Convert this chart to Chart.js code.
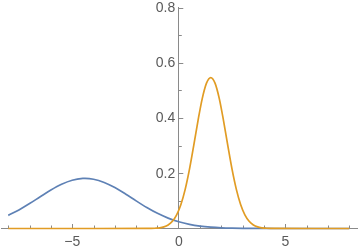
<!DOCTYPE html>
<html>
<head>
<meta charset="utf-8">
<script src="https://cdn.jsdelivr.net/npm/chart.js@4/dist/chart.umd.min.js"></script>
<style>
  html, body { margin: 0; padding: 0; background: #fff; }
  #wrap { width: 358px; height: 250px; }
</style>
</head>
<body>
<div id="wrap"><canvas id="plot"></canvas></div>
<script>
// blue curve (wide bump on the left)
const blueX = [-8, -7.5, -7, -6.5, -6, -5.5, -5, -4.5, -4.4, -4, -3.5, -3, -2.5, -2, -1.5, -1, -0.5, 0, 0.5, 1, 1.5, 2, 2.5, 3, 3.5, 4, 4.5, 5, 5.5, 6, 6.5, 7, 7.5, 8];
const blueY = [0.0475, 0.0672, 0.0902, 0.115, 0.1392, 0.16, 0.1747, 0.1811, 0.1813, 0.1783, 0.1667, 0.1481, 0.1249, 0.1, 0.076, 0.0549, 0.0377, 0.0245, 0.0152, 0.0089, 0.005, 0.0026, 0.0013, 0.0006, 0.0003, 0.0001, 0, 0, 0, 0, 0, 0, 0, 0];

// orange curve (narrow peak right of zero)
const orangeX = [-8, -1.5, -1.3, -1.1, -0.9, -0.7, -0.5, -0.3, -0.1, 0.1, 0.3, 0.5, 0.7, 0.9, 1.1, 1.3, 1.5, 1.7, 1.9, 2.1, 2.3, 2.5, 2.7, 2.9, 3.1, 3.3, 3.5, 3.7, 3.9, 4.1, 4.3, 4.5, 8];
const orangeY = [0, 0.0001, 0.0003, 0.001, 0.0025, 0.0058, 0.0128, 0.0261, 0.0495, 0.0869, 0.1415, 0.2138, 0.2998, 0.3898, 0.4703, 0.5264, 0.5465, 0.5264, 0.4703, 0.3898, 0.2998, 0.2138, 0.1415, 0.0869, 0.0495, 0.0261, 0.0128, 0.0058, 0.0025, 0.001, 0.0003, 0.0001, 0];

const xTicks = [-8, -7, -6, -5, -4, -3, -2, -1, 0, 1, 2, 3, 4, 5, 6, 7, 8];
const xLabels = [-5, 0, 5];
const yTicks = [0.1, 0.2, 0.3, 0.4, 0.5, 0.6, 0.7, 0.8];
const yLabels = [0.2, 0.4, 0.6, 0.8];

const axisColor = "#8a8a8a";
const labelColor = "#5a5a5a";
const labelFont = { family: "'Liberation Sans', Arial, sans-serif", size: 14 };

function toPoints(xs, ys) {
  return xs.map((x, i) => ({ x: x, y: ys[i] }));
}

// Mathematica style ticks: short marks pointing into the plot,
// plus the y labels sitting left of the axis at x = 0
const tickMarks = {
  id: "tickMarks",
  beforeDatasetsDraw(chart) {
    const c = chart.ctx;
    const xs = chart.scales.x;
    const ys = chart.scales.y;
    const xAxisY = ys.getPixelForValue(0);
    const yAxisX = xs.getPixelForValue(0);
    c.save();
    c.strokeStyle = axisColor;
    c.lineWidth = 1;
    c.beginPath();
    xTicks.forEach((v) => {
      if (v === 0) return;
      const px = Math.round(xs.getPixelForValue(v)) + 0.5;
      const len = xLabels.includes(v) ? 4.5 : 3;
      c.moveTo(px, xAxisY);
      c.lineTo(px, xAxisY - len);
    });
    yTicks.forEach((v) => {
      const py = Math.round(ys.getPixelForValue(v)) + 0.5;
      const len = yLabels.includes(v) ? 4.5 : 3;
      c.moveTo(yAxisX, py);
      c.lineTo(yAxisX + len, py);
    });
    c.stroke();

    c.fillStyle = labelColor;
    c.font = `${labelFont.size}px ${labelFont.family}`;
    c.textAlign = "right";
    c.textBaseline = "middle";
    yLabels.forEach((v) => {
      c.fillText(v.toFixed(1), yAxisX - 3.5, ys.getPixelForValue(v) + 0.5);
    });
    c.restore();
  },
};

const ctx = document.getElementById("plot");

new Chart(ctx, {
  type: "line",
  data: {
    datasets: [
      {
        label: "orange",
        data: toPoints(orangeX, orangeY),
        borderColor: "#E19C24",
        borderWidth: 1.7,
        pointRadius: 0,
        cubicInterpolationMode: "monotone",
        clip: false,
        order: 0,
      },
      {
        label: "blue",
        data: toPoints(blueX, blueY),
        borderColor: "#5E81B5",
        borderWidth: 1.7,
        pointRadius: 0,
        cubicInterpolationMode: "monotone",
        clip: false,
        order: 1,
      },
    ],
  },
  options: {
    responsive: true,
    maintainAspectRatio: false,
    animation: false,
    events: [],
    layout: { padding: { left: 1, right: 1, top: 7.5, bottom: 0 } },
    plugins: { legend: { display: false }, tooltip: { enabled: false } },
    scales: {
      x: {
        type: "linear",
        min: -8.34,
        max: 8.36,
        afterBuildTicks: (scale) => {
          scale.ticks = xTicks.map((v) => ({ value: v }));
        },
        afterFit: (scale) => {
          scale.height = 21.5;
        },
        ticks: {
          autoSkip: false,
          maxRotation: 0,
          padding: 5,
          color: labelColor,
          font: labelFont,
          callback: (v) => (xLabels.includes(v) ? String(v).replace("-", "\u2212") : ""),
        },
        grid: { display: false, drawTicks: false },
        border: { display: true, color: axisColor, width: 1 },
      },
      y: {
        type: "linear",
        position: { x: 0 },
        min: 0,
        max: 0.8,
        afterBuildTicks: (scale) => {
          scale.ticks = yTicks.map((v) => ({ value: v }));
        },
        ticks: { display: false },
        grid: { display: false, drawTicks: false },
        border: { display: true, color: axisColor, width: 1 },
      },
    },
  },
  plugins: [tickMarks],
});
</script>
</body>
</html>
